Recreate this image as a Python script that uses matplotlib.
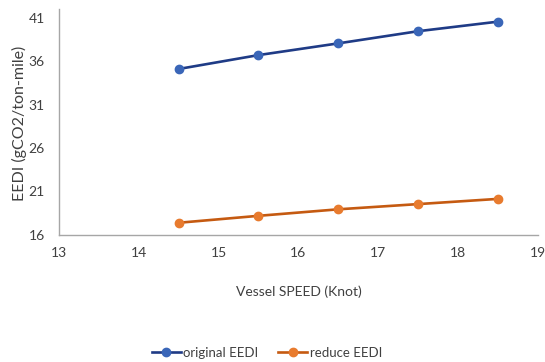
import matplotlib
matplotlib.use("Agg")
import matplotlib.pyplot as plt
from matplotlib.lines import Line2D

plt.rcParams['font.family'] = ['Lato', 'DejaVu Sans']

speed = [14.5, 15.5, 16.5, 17.5, 18.5]
original_eedi = [35.1, 36.7, 38.05, 39.45, 40.55]
reduce_eedi = [17.4, 18.2, 18.95, 19.55, 20.15]
x_ticks = [13, 14, 15, 16, 17, 18, 19]
y_ticks = [16, 21, 26, 31, 36, 41]

blue_line, blue_mark = '#1F3B86', '#3A66B8'
orange_line, orange_mark = '#C55A11', '#E87B2E'
text_color = '#404040'

fig = plt.figure(figsize=(5.45, 3.62), dpi=100)
ax = fig.add_axes([0.108, 0.351, 0.879, 0.624])

ax.plot(speed, original_eedi, color=blue_line, lw=1.9, marker='o', ms=6,
        mfc=blue_mark, mec=blue_mark, label='original EEDI')
ax.plot(speed, reduce_eedi, color=orange_line, lw=1.9, marker='o', ms=6,
        mfc=orange_mark, mec=orange_mark, label='reduce EEDI')

ax.set_xlim(13, 19)
ax.set_ylim(16, 42)
ax.set_xticks(x_ticks)
ax.set_yticks(y_ticks)
ax.tick_params(length=0, labelsize=10, colors=text_color)
ax.tick_params(axis='y', pad=10)
ax.tick_params(axis='x', pad=9)
for s in ['top', 'right']:
    ax.spines[s].set_visible(False)
for s in ['left', 'bottom']:
    ax.spines[s].set_color('#A6A6A6')
    ax.spines[s].set_linewidth(1)

ax.set_xlabel('Vessel SPEED (Knot)', fontsize=10, color=text_color, labelpad=19)
fig.text(19 / 545, 1 - 123 / 362, 'EEDI (gCO2/ton-mile)', rotation=90,
         ha='center', va='center', fontsize=11.5, color=text_color)

handles = [
    Line2D([], [], color=blue_line, lw=1.9, marker='o', ms=6, mfc=blue_mark, mec=blue_mark),
    Line2D([], [], color=orange_line, lw=1.9, marker='o', ms=6, mfc=orange_mark, mec=orange_mark),
]
fig.legend(handles, ['original EEDI', 'reduce EEDI'], loc='center',
           bbox_to_anchor=(0.49, 0.025), ncol=2, frameon=False, fontsize=9.5,
           handlelength=2.2, handletextpad=0.2, columnspacing=1.5,
           labelcolor=text_color)

fig.savefig('out.png', dpi=100)
